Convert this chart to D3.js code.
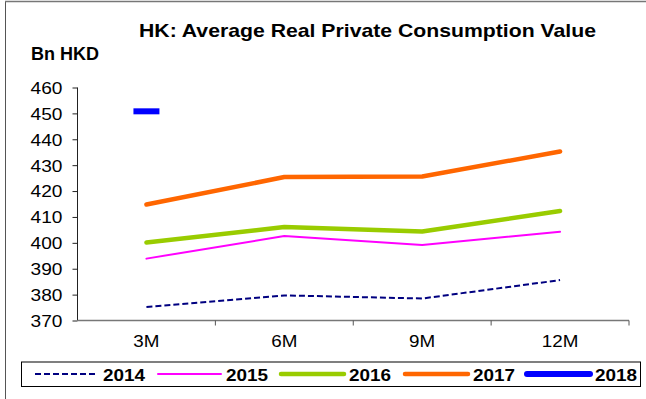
<!DOCTYPE html>
<html>
<head>
<meta charset="utf-8">
<script src="https://cdn.jsdelivr.net/npm/d3@7"></script>
<style>
  html, body { margin: 0; padding: 0; background: #fff; }
  svg { display: block; font-family: "Liberation Sans", Arial, sans-serif; }
</style>
</head>
<body>
<svg id="chart" width="646" height="399"></svg>
<script>
// Periods on the x axis
const periods = ["3M", "6M", "9M", "12M"];
// Average real private consumption value, Bn HKD
const v2014 = [375.2, 379.7, 378.5, 385.6];
const v2015 = [393.9, 402.6, 399.2, 404.3];
const v2016 = [400.1, 406.1, 404.4, 412.3];
const v2017 = [414.8, 425.4, 425.6, 435.3];
const v2018 = [450.8];
const yTicks = [370, 380, 390, 400, 410, 420, 430, 440, 450, 460];

const series = [
  { name: "2014", values: v2014, color: "#000080", width: 2, dash: "6,3" },
  { name: "2015", values: v2015, color: "#FF00FF", width: 2, dash: null },
  { name: "2016", values: v2016, color: "#99CC00", width: 4.5, dash: null },
  { name: "2017", values: v2017, color: "#FF6600", width: 4.5, dash: null },
  { name: "2018", values: v2018, color: "#0000FF", width: 6, dash: null }
];

// the typeface is drawn slightly wide; stretch glyphs to a width per character
const WIDE = 1.14;
function widen(sel, size, bold) {
  sel.each(function () {
    const t = d3.select(this);
    const len = this.getComputedTextLength();
    t.attr("textLength", len * WIDE).attr("lengthAdjust", "spacingAndGlyphs");
  });
}

const svg = d3.select("#chart");

// outer frame (left and top edges)
svg.append("line").attr("x1", 5.5).attr("x2", 5.5).attr("y1", 1).attr("y2", 399)
  .attr("stroke", "#555").attr("stroke-width", 1);
svg.append("line").attr("x1", 5).attr("x2", 646).attr("y1", 1.5).attr("y2", 1.5)
  .attr("stroke", "#777").attr("stroke-width", 1.5);

const plot = { left: 77.5, right: 629, top: 87.5, bottom: 320.5 };

const x = d3.scaleBand().domain(periods).range([plot.left, plot.right]);
const y = d3.scaleLinear().domain([370, 460]).range([plot.bottom, plot.top]);

// title
svg.append("text").attr("x", 139).attr("y", 36.5)
  .attr("font-size", 18.5).attr("font-weight", "bold")
  .attr("textLength", 457).attr("lengthAdjust", "spacingAndGlyphs")
  .text("HK: Average Real Private Consumption Value");
svg.append("text").attr("x", 31).attr("y", 60)
  .attr("font-size", 17.5).attr("font-weight", "bold")
  .attr("textLength", 68).attr("lengthAdjust", "spacingAndGlyphs")
  .text("Bn HKD");

// y axis
const yAxis = svg.append("g").attr("transform", `translate(${plot.left},0)`)
  .call(d3.axisLeft(y).tickValues(yTicks).tickSize(5).tickPadding(10));
yAxis.select(".domain").attr("stroke", "#222").attr("d", `M-0,${plot.top}V${plot.bottom}`);
yAxis.selectAll(".tick line").attr("stroke", "#222");
yAxis.selectAll(".tick text").attr("font-size", 16.8).attr("fill", "#000")
  .attr("dy", "0.35em")
  .attr("font-family", "Liberation Sans, Arial, sans-serif")
  .call(widen);

// x axis: ticks at category boundaries
const xAxisG = svg.append("g").attr("transform", `translate(0,${plot.bottom})`);
xAxisG.append("line").attr("x1", plot.left).attr("x2", plot.right).attr("y1", 0).attr("y2", 0)
  .attr("stroke", "#777").attr("stroke-width", 1.5);
const boundaries = periods.slice(1).map(p => x(p)).concat([plot.right]);
xAxisG.selectAll("line.tk").data(boundaries).join("line").attr("class", "tk")
  .attr("x1", d => d).attr("x2", d => d).attr("y1", 0).attr("y2", 5)
  .attr("stroke", "#555");
xAxisG.selectAll("text").data(periods).join("text")
  .attr("x", d => x(d) + x.bandwidth() / 2).attr("y", 26.3)
  .attr("text-anchor", "middle").attr("font-size", 16.5).text(d => d)
  .call(widen);

// series lines
const line = d3.line()
  .x((d, i) => x(periods[i]) + x.bandwidth() / 2)
  .y(d => y(d));

series.forEach(s => {
  if (s.values.length > 1) {
    svg.append("path").datum(s.values)
      .attr("d", line).attr("fill", "none")
      .attr("stroke", s.color).attr("stroke-width", s.width)
      .attr("stroke-linejoin", "round")
      .attr("stroke-linecap", s.dash ? "butt" : "round")
      .attr("stroke-dasharray", s.dash);
  } else {
    // single observation drawn as a dash marker
    s.values.forEach((v, i) => {
      const cx = x(periods[i]) + x.bandwidth() / 2;
      svg.append("line").attr("x1", cx - 13).attr("x2", cx + 13)
        .attr("y1", y(v)).attr("y2", y(v))
        .attr("stroke", s.color).attr("stroke-width", s.width);
    });
  }
});

// legend
const legend = svg.append("g");
legend.append("rect").attr("x", 21.5).attr("y", 362).attr("width", 619).attr("height", 24.5)
  .attr("fill", "#fff").attr("stroke", "#000").attr("stroke-width", 1);
const legendX = [35, 158, 281, 405, 527];
series.forEach((s, i) => {
  const lx = legendX[i];
  legend.append("line").attr("x1", lx).attr("x2", lx + 63).attr("y1", 374).attr("y2", 374)
    .attr("stroke", s.color).attr("stroke-width", s.width)
    .attr("stroke-linecap", s.dash ? "butt" : "round")
    .attr("stroke-dasharray", s.dash);
  legend.append("text").attr("x", lx + 68).attr("y", 380.5)
    .attr("font-size", 17).attr("font-weight", "bold")
    .attr("textLength", 42).attr("lengthAdjust", "spacingAndGlyphs")
    .text(s.name);
});
</script>
</body>
</html>
